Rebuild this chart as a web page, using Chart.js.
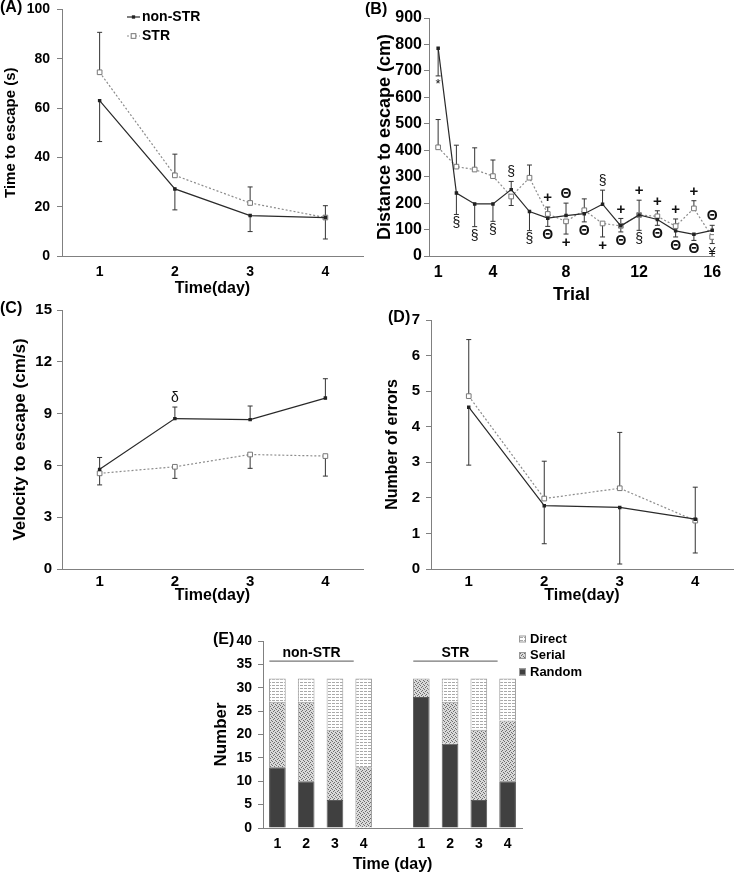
<!DOCTYPE html>
<html>
<head>
<meta charset="utf-8">
<script src="https://cdn.jsdelivr.net/npm/chart.js@4/dist/chart.umd.min.js"></script>
<style>
  body { margin: 0; background: #fff; }
  #fig { position: relative; width: 739px; height: 875px; overflow: hidden; }
  #fig canvas { position: absolute; }
</style>
</head>
<body>
<div id="fig">
  <canvas id="chartA" width="370" height="304" style="left:0;top:-6px"></canvas>
  <canvas id="chartB" width="377" height="310" style="left:362px;top:0"></canvas>
  <canvas id="chartC" width="370" height="314" style="left:0;top:296px"></canvas>
  <canvas id="chartD" width="369" height="305" style="left:370px;top:305px"></canvas>
  <canvas id="chartE" width="410" height="250" style="left:200px;top:625px"></canvas>
</div>
<script>
// ---- data ----
const days = ['1', '2', '3', '4'];

// (A) time to escape (s); *Bar = end of the error bar
const timeNonStr = [63, 27.2, 16.4, 15.6];
const timeNonStrBar = [46.4, 18.7, 9.9, 6.9];
const timeStr = [74.5, 32.7, 21.5, 15.6];
const timeStrBar = [90.7, 41.3, 28, 20.4];

// (B) distance to escape (cm) per trial
const trials = [1, 2, 3, 4, 5, 6, 7, 8, 9, 10, 11, 12, 13, 14, 15, 16];
const trialTicks = [1, 4, 8, 12, 16];
const distNonStr = [786, 238, 197, 197, 251, 168, 143, 153, 160, 196, 114, 155, 138, 95, 82, 97];
const distNonStrBar = [681, 157, 111, 131, 282, 96, 112, 200, 129, 249, 91, 97, 116, 72, 59, 116];
const distStr = [411, 338, 327, 302, 225, 296, 159, 131, 173, 123, 114, 155, 150, 113, 180, 72];
const distStrBar = [516, 419, 409, 363, 191, 344, 185, 83, 216, 72, 142, 211, 171, 140, 209, 47];
const distNonStrMarks = ['*', '§', '§', '§', '§', '§', 'Θ', 'Θ', 'Θ', '§', 'Θ', '§', 'Θ', 'Θ', 'Θ', 'Θ'];
const distStrMarks = ['', '', '', '', '', '', '+', '+', '', '+', '+', '+', '+', '+', '+', '¥'];

// (C) velocity to escape (cm/s)
const velNonStr = [5.77, 8.71, 8.65, 9.9];
const velNonStrBar = [6.46, 9.38, 9.44, 11.02];
const velStr = [5.54, 5.92, 6.63, 6.54];
const velStrBar = [4.87, 5.25, 5.83, 5.38];
const velNonStrMarks = ['', 'δ', '', ''];

// (D) number of errors
const errNonStr = [4.55, 1.78, 1.73, 1.4];
const errNonStrBar = [2.92, 0.71, 0.14, 0.45];
const errStr = [4.86, 1.98, 2.27, 1.36];
const errStrBar = [6.45, 3.03, 3.84, 2.3];

// (E) search strategy counts
const strategyDays = ['1', '2', '3', '4', '', '1', '2', '3', '4'];
const groupNames = ['non-STR', 'STR'];
const randomCount = [13, 10, 6, 0, null, 28, 18, 6, 10];
const serialCount = [14, 17, 15, 13, null, 4, 9, 15, 13];
const directCount = [5, 5, 11, 19, null, 0, 5, 11, 9];

// ---- helpers ----
const FAM = 'Arial, "Liberation Sans", sans-serif';
function bold(size) { return { family: FAM, size: size, weight: 'bold' }; }

function series(nonStr, nonStrBar, str, strBar, xs, nonMarks, strMarks) {
  const pts = arr => xs ? arr.map((v, i) => ({ x: xs[i], y: v })) : arr;
  return [
    { label: 'non-STR', data: pts(nonStr), bar: nonStrBar, marks: nonMarks,
      borderColor: '#2a2a2a', borderWidth: 1.2, pointStyle: 'rect', pointRadius: 1.6,
      pointBackgroundColor: '#222', pointBorderColor: '#222', tension: 0 },
    { label: 'STR', data: pts(str), bar: strBar, marks: strMarks,
      borderColor: '#8c8c8c', borderWidth: 1.2, borderDash: [2, 2], pointStyle: 'rect', pointRadius: 3.3,
      pointBackgroundColor: '#fff', pointBorderColor: '#777', pointBorderWidth: 1, tension: 0 }
  ];
}

const markFont = {
  'Θ': 'bold 14px ' + FAM, '§': '14px ' + FAM, '+': 'bold 15px ' + FAM,
  '*': '13px ' + FAM, '¥': '13px ' + FAM, 'δ': '14px ' + FAM
};

// error bars (one-sided) and significance marks
const errorBars = {
  id: 'errorBars',
  beforeDatasetsDraw(chart) {
    const ctx = chart.ctx, ys = chart.scales.y;
    ctx.save();
    ctx.strokeStyle = '#333';
    ctx.lineWidth = 1;
    chart.data.datasets.forEach((ds, di) => {
      if (!ds.bar) return;
      chart.getDatasetMeta(di).data.forEach((pt, i) => {
        const yEnd = ys.getPixelForValue(ds.bar[i]);
        ctx.beginPath();
        ctx.moveTo(pt.x, pt.y);
        ctx.lineTo(pt.x, yEnd);
        ctx.moveTo(pt.x - 2.5, yEnd);
        ctx.lineTo(pt.x + 2.5, yEnd);
        ctx.stroke();
      });
    });
    ctx.restore();
  },
  afterDatasetsDraw(chart) {
    const ctx = chart.ctx, ys = chart.scales.y;
    ctx.save();
    ctx.fillStyle = '#111';
    ctx.textAlign = 'center';
    ctx.textBaseline = 'middle';
    chart.data.datasets.forEach((ds, di) => {
      if (!ds.marks) return;
      const vals = ds.data.map(d => (typeof d === 'object' ? d.y : d));
      chart.getDatasetMeta(di).data.forEach((pt, i) => {
        const m = ds.marks[i];
        if (!m) return;
        const dir = ds.bar[i] > vals[i] ? -1 : 1;
        const yEnd = ys.getPixelForValue(ds.bar[i]);
        ctx.font = markFont[m] || '14px ' + FAM;
        ctx.fillText(m, pt.x, yEnd + dir * 9);
      });
    });
    ctx.restore();
  }
};

const panelTag = {
  id: 'panelTag',
  afterDraw(chart, args, opts) {
    if (!opts.text) return;
    const ctx = chart.ctx;
    ctx.save();
    ctx.font = 'bold 16px ' + FAM;
    ctx.fillStyle = '#000';
    ctx.textBaseline = 'middle';
    ctx.fillText(opts.text, opts.x, opts.y);
    ctx.restore();
  }
};

const seriesLegend = {
  id: 'seriesLegend',
  afterDraw(chart, args, opts) {
    if (!opts.show) return;
    const ctx = chart.ctx;
    ctx.save();
    chart.data.datasets.forEach((ds, i) => {
      const y = opts.y + i * opts.gap;
      ctx.strokeStyle = ds.borderColor;
      ctx.lineWidth = 1.2;
      ctx.setLineDash(ds.borderDash || []);
      ctx.beginPath();
      ctx.moveTo(opts.x, y);
      ctx.lineTo(opts.x + 13, y);
      ctx.stroke();
      ctx.setLineDash([]);
      const r = ds.pointRadius * Math.SQRT1_2;
      ctx.fillStyle = ds.pointBackgroundColor;
      ctx.fillRect(opts.x + 6.5 - r, y - r, 2 * r, 2 * r);
      ctx.strokeStyle = ds.pointBorderColor;
      ctx.lineWidth = 1;
      ctx.strokeRect(opts.x + 6.5 - r, y - r, 2 * r, 2 * r);
      ctx.fillStyle = '#000';
      ctx.font = 'bold 14px ' + FAM;
      ctx.textBaseline = 'middle';
      ctx.fillText(ds.label, opts.x + 15, y);
    });
    ctx.restore();
  }
};

function lineOptions(p) {
  return {
    responsive: false,
    animation: false,
    layout: { padding: { top: p.padTop, right: p.padRight, left: 0, bottom: 0 } },
    plugins: {
      legend: { display: false },
      tooltip: { enabled: false },
      panelTag: p.tag,
      seriesLegend: p.legend || {}
    },
    scales: {
      x: Object.assign({
        offset: true,
        grid: { display: false, drawTicks: false },
        border: { color: '#808080', width: 1 },
        ticks: { color: '#000', font: bold(p.tickSize), padding: p.xTickPad },
        title: { display: true, text: p.xTitle, color: '#000', font: bold(p.xTitleSize), padding: { top: 0, bottom: p.xTitlePad } },
        afterFit: s => { s.height = p.xHeight; }
      }, p.xExtra || {}),
      y: {
        min: p.yMin, max: p.yMax,
        grid: { drawOnChartArea: false, drawTicks: true, tickLength: 5, color: '#808080' },
        border: { color: '#808080', width: 1 },
        ticks: { stepSize: p.yStep, color: '#000', font: bold(p.tickSize), padding: p.yTickPad },
        title: { display: true, text: p.yTitle, color: '#000', font: bold(p.yTitleSize), padding: { top: p.yTitlePad, bottom: 0 } },
        afterFit: s => { s.width = p.yWidth; }
      }
    }
  };
}

// (A)
new Chart(document.getElementById('chartA'), {
  type: 'line',
  data: { labels: days, datasets: series(timeNonStr, timeNonStrBar, timeStr, timeStrBar) },
  options: lineOptions({
    padTop: 12, padRight: 7, yWidth: 62, xHeight: 42,
    yMin: 0, yMax: 100, yStep: 20, tickSize: 14, xTickPad: 8, yTickPad: 7,
    xTitle: 'Time(day)', xTitleSize: 16, xTitlePad: 0,
    yTitle: 'Time to escape (s)', yTitleSize: 15, yTitlePad: 2,
    tag: { text: '(A)', x: 0, y: 14 },
    legend: { show: true, x: 127, y: 23, gap: 19 }
  }),
  plugins: [errorBars, panelTag, seriesLegend]
});

// (B)
new Chart(document.getElementById('chartB'), {
  type: 'line',
  data: { datasets: series(distNonStr, distNonStrBar, distStr, distStrBar, trials, distNonStrMarks, distStrMarks) },
  options: lineOptions({
    padTop: 18, padRight: 25, yWidth: 67, xHeight: 54,
    yMin: 0, yMax: 900, yStep: 100, tickSize: 16, xTickPad: 7, yTickPad: 2,
    xTitle: 'Trial', xTitleSize: 18, xTitlePad: 4,
    yTitle: 'Distance to escape (cm)', yTitleSize: 18, yTitlePad: 12,
    tag: { text: '(B)', x: 3, y: 10 },
    xExtra: {
      type: 'linear', offset: false, min: 0.5, max: 16.1,
      afterBuildTicks: s => { s.ticks = trialTicks.map(v => ({ value: v })); }
    }
  }),
  plugins: [errorBars, panelTag]
});

// (C)
new Chart(document.getElementById('chartC'), {
  type: 'line',
  data: { labels: days, datasets: series(velNonStr, velNonStrBar, velStr, velStrBar, null, velNonStrMarks, null) },
  options: lineOptions({
    padTop: 13, padRight: 7, yWidth: 62, xHeight: 41,
    yMin: 0, yMax: 15, yStep: 3, tickSize: 15, xTickPad: 4, yTickPad: 5,
    xTitle: 'Time(day)', xTitleSize: 16, xTitlePad: 5,
    yTitle: 'Velocity to escape (cm/s)', yTitleSize: 17, yTitlePad: 10,
    tag: { text: '(C)', x: 0, y: 13 }
  }),
  plugins: [errorBars, panelTag]
});

// (D)
new Chart(document.getElementById('chartD'), {
  type: 'line',
  data: { labels: days, datasets: series(errNonStr, errNonStrBar, errStr, errStrBar) },
  options: lineOptions({
    padTop: 13, padRight: 6, yWidth: 61, xHeight: 41,
    yMin: 0, yMax: 7, yStep: 1, tickSize: 15, xTickPad: 4, yTickPad: 6,
    xTitle: 'Time(day)', xTitleSize: 16, xTitlePad: 5,
    yTitle: 'Number of errors', yTitleSize: 16, yTitlePad: 13,
    tag: { text: '(D)', x: 18, y: 13 }
  }),
  plugins: [errorBars, panelTag]
});

// (E) fill patterns
function makePattern(kind) {
  const c = document.createElement('canvas');
  const g = c.getContext('2d');
  if (kind === 'direct') {
    c.width = 4; c.height = 3;
    g.fillStyle = '#fff'; g.fillRect(0, 0, 4, 3);
    g.fillStyle = '#a9a9a9'; g.fillRect(0, 0, 3, 1);
  } else {
    c.width = 4; c.height = 4;
    g.fillStyle = '#d9d9d9'; g.fillRect(0, 0, 4, 4);
    g.fillStyle = '#6e6e6e';
    [[0, 0], [2, 1], [1, 2], [3, 3]].forEach(([px, py]) => g.fillRect(px, py, 1, 1));
  }
  return g.createPattern(c, 'repeat');
}

const strategyDecor = {
  id: 'strategyDecor',
  afterDraw(chart) {
    const { ctx, scales: { x, y } } = chart;
    ctx.save();
    // group captions over the bars
    groupNames.forEach((name, g) => {
      const first = g * 5;
      const x0 = x.getPixelForValue(first) - 8;
      const x1 = x.getPixelForValue(first + 3) - 10;
      const yl = y.getPixelForValue(35.7);
      ctx.strokeStyle = '#555';
      ctx.lineWidth = 1;
      ctx.beginPath();
      ctx.moveTo(x0, yl);
      ctx.lineTo(x1, yl);
      ctx.stroke();
      ctx.fillStyle = '#000';
      ctx.font = 'bold 14px ' + FAM;
      ctx.textAlign = 'center';
      ctx.textBaseline = 'bottom';
      ctx.fillText(name, (x0 + x1) / 2, yl - 1);
    });
    // legend, top item first
    const ds = chart.data.datasets.slice().reverse();
    ctx.textAlign = 'left';
    ctx.textBaseline = 'middle';
    ds.forEach((d, i) => {
      const ly = 14 + i * 16.5;
      const lx = chart.chartArea.right - 3;
      ctx.fillStyle = d.backgroundColor;
      ctx.fillRect(lx, ly - 3.5, 7, 7);
      ctx.strokeStyle = '#999';
      ctx.strokeRect(lx + 0.5, ly - 3, 6, 6);
      ctx.fillStyle = '#000';
      ctx.font = 'bold 13px ' + FAM;
      ctx.fillText(d.label, lx + 11, ly);
    });
    ctx.restore();
  }
};

new Chart(document.getElementById('chartE'), {
  type: 'bar',
  data: {
    labels: strategyDays,
    datasets: [
      { label: 'Random', data: randomCount, backgroundColor: '#404040', borderColor: '#5a5a5a', borderWidth: 1 },
      { label: 'Serial', data: serialCount, backgroundColor: makePattern('serial'), borderColor: '#9a9a9a', borderWidth: 1 },
      { label: 'Direct', data: directCount, backgroundColor: makePattern('direct'), borderColor: '#9a9a9a', borderWidth: 1 }
    ]
  },
  options: {
    responsive: false,
    animation: false,
    layout: { padding: { top: 16, right: 88, left: 0, bottom: 0 } },
    datasets: { bar: { categoryPercentage: 1, barPercentage: 0.58 } },
    plugins: {
      legend: { display: false },
      tooltip: { enabled: false },
      panelTag: { text: '(E)', x: 13, y: 15 }
    },
    scales: {
      x: {
        stacked: true,
        grid: { display: false, drawTicks: false },
        border: { color: '#808080', width: 1 },
        ticks: { color: '#000', font: bold(14), padding: 8 },
        title: { display: true, text: 'Time (day)', color: '#000', font: bold(16), padding: { top: 0, bottom: 1 } },
        afterFit: s => { s.height = 47; }
      },
      y: {
        stacked: true, min: 0, max: 40,
        grid: { drawOnChartArea: false, drawTicks: true, tickLength: 5, color: '#808080' },
        border: { color: '#808080', width: 1 },
        ticks: { stepSize: 5, color: '#000', font: bold(14), padding: 6 },
        title: { display: true, text: 'Number', color: '#000', font: bold(17), padding: { top: 11, bottom: 0 } },
        afterFit: s => { s.width = 63; }
      }
    }
  },
  plugins: [panelTag, strategyDecor]
});
</script>
</body>
</html>
